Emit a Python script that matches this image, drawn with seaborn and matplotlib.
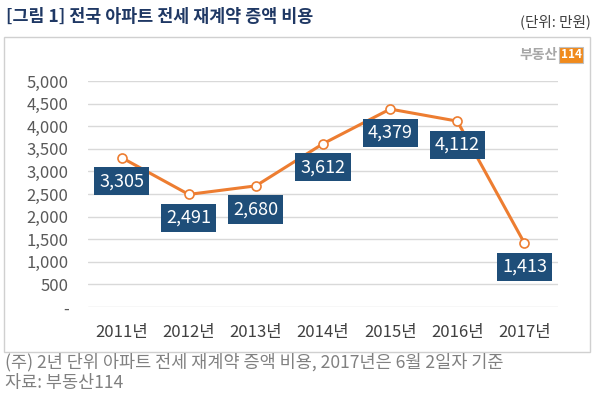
import matplotlib
matplotlib.use("Agg")
import matplotlib.pyplot as plt
import seaborn as sns
import pandas as pd
from matplotlib.patches import Rectangle

# data
years = ['2011년', '2012년', '2013년', '2014년', '2015년', '2016년', '2017년']
cost = [3305, 2491, 2680, 3612, 4379, 4112, 1413]
yticks = [0, 500, 1000, 1500, 2000, 2500, 3000, 3500, 4000, 4500, 5000]

sns.set_style('white')
plt.rcParams['font.family'] = ['Noto Sans CJK KR', 'DejaVu Sans']

df = pd.DataFrame({'year': years, 'cost': cost})

fig = plt.figure(figsize=(5.96, 3.98), dpi=100)
ax = fig.add_axes([88/596, 1 - 307/398, 470/596, 226/398])

orange = '#ED7D31'
navy = '#1F4E79'

sns.lineplot(data=df, x='year', y='cost', ax=ax, color=orange, linewidth=2.2,
             marker='o', markersize=6.5, markerfacecolor='white',
             markeredgecolor=orange, markeredgewidth=1.2, sort=False)

ax.set_xlim(-0.5, 6.5)
ax.set_ylim(0, 5000)
ax.set_yticks(yticks)
ax.set_yticklabels(['-'] + [f'{v:,}' for v in yticks[1:]])
ax.yaxis.grid(True, color='#D9D9D9', linewidth=1)
ax.set_axisbelow(True)
for s in ax.spines.values():
    s.set_visible(False)
ax.tick_params(axis='y', length=0, pad=14, labelsize=12, labelcolor='#595959')
ax.tick_params(axis='x', length=0, pad=12, labelsize=12, labelcolor='#404040')
ax.set_xlabel('')
ax.set_ylabel('')

# data labels below the points
for i, v in enumerate(cost):
    ax.annotate(f'{v:,}', (i, v), xytext=(0, -17), textcoords='offset points',
                ha='center', va='center', color='white', fontsize=13,
                bbox=dict(boxstyle='square,pad=0.28', fc=navy, ec='none'))

# frame box
fig.patches.append(Rectangle((4/596, 1 - 352/398), 586/596, 315/398,
                             transform=fig.transFigure, fill=False,
                             ec='#D0D0D0', lw=1))

fig.text(6/596, 1 - 17/398, '[그림 1] 전국 아파트 전세 재계약 증액 비용',
         fontsize=12.5, fontweight='bold', color='#1F3864', va='center')
fig.text(591/596, 1 - 22/398, '(단위: 만원)', fontsize=10.5,
         color='#404040', ha='right', va='center')

# logo
fig.text(558/596, 1 - 55/398, '부동산', fontsize=10, fontweight='bold',
         color='#A6A6A6', ha='right', va='center')
fig.text(571/596, 1 - 55/398, '114', fontsize=8.5, fontweight='bold',
         color='white', ha='center', va='center',
         bbox=dict(boxstyle='square,pad=0.15', fc='#F08A1C', ec='#C0C0C0', lw=0.8))

fig.text(5/596, 1 - 362/398,
         '(주) 2년 단위 아파트 전세 재계약 증액 비용, 2017년은 6월 2일자 기준',
         fontsize=12.6, color='#808080', va='center')
fig.text(5/596, 1 - 383/398, '자료: 부동산114', fontsize=12.6,
         color='#808080', va='center')

plt.savefig('out.png', dpi=100)
